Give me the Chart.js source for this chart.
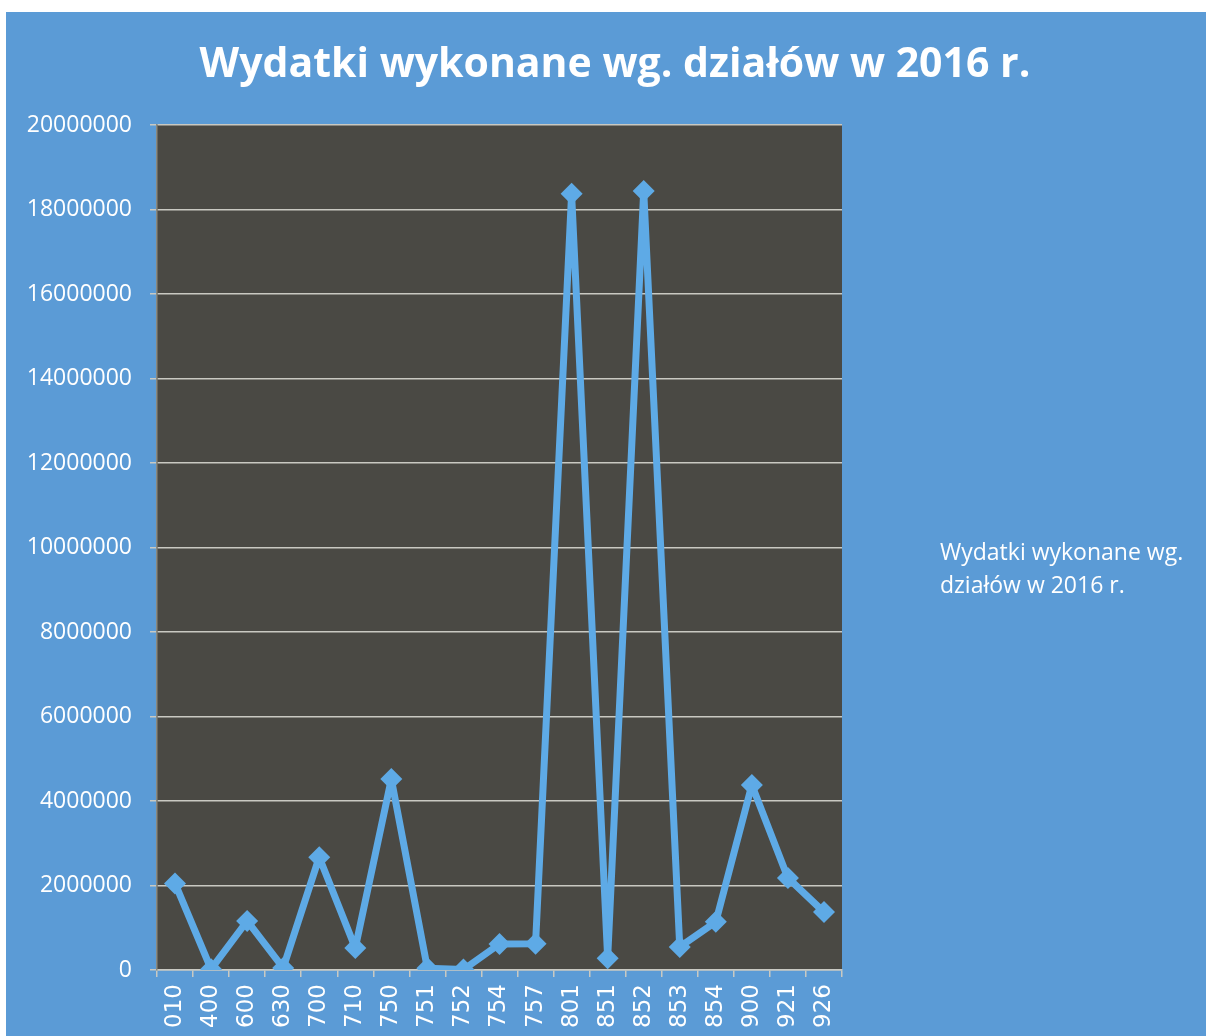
<!DOCTYPE html>
<html lang="pl">
  <head>
    <meta charset="UTF-8">
    <title>Wydatki wykonane wg. działów w 2016 r.</title>
    <script src="https://cdn.jsdelivr.net/npm/chart.js"></script>
    <style>
      body { margin: 0; background: #ffffff; }
      #wrap { position: absolute; left: 6px; top: 12px; width: 1200px; height: 1024px; }
    </style>
  </head>
  <body>
  <div id="wrap"><canvas id="chart" width="1200" height="1024"></canvas></div>
    <script>
    // dzialy budzetowe
    const dzialy = ['010', '400', '600', '630', '700', '710', '750', '751', '752', '754',
                    '757', '801', '851', '852', '853', '854', '900', '921', '926'];
    // wydatki wykonane
    const wydatki = [2050000, 20000, 1160000, 50000, 2670000, 520000, 4520000, 40000, 10000, 615000,
                     620000, 18370000, 280000, 18440000, 545000, 1140000, 4380000, 2180000, 1370000];
    const yTicks = [0, 2000000, 4000000, 6000000, 8000000, 10000000, 12000000, 14000000, 16000000, 18000000, 20000000];
    const tytul = 'Wydatki wykonane wg. działów w 2016 r.';
    const legenda = ['Wydatki wykonane wg.', 'działów w 2016 r.'];

    const tlo = {
      id: 'tlo',
      beforeDraw(chart) {
        const c = chart.ctx, a = chart.chartArea;
        c.save();
        c.fillStyle = '#5b9bd6';
        c.fillRect(0, 0, chart.width, chart.height);
        c.fillStyle = '#4a4944';
        c.fillRect(a.left, a.top, a.right - a.left, a.bottom - a.top);
        c.restore();
      },
      afterDraw(chart) {
        const c = chart.ctx;
        c.save();
        c.fillStyle = '#ffffff';
        c.textBaseline = 'middle';
        // tytul wyśrodkowany na całej szerokości
        c.font = 'bold 41px "Open Sans"';
        c.textAlign = 'center';
        c.fillText(tytul, 609, 53);
        // legenda po prawej
        c.font = '23px "Open Sans"';
        c.textAlign = 'left';
        c.fillText(legenda[0], 934, 541);
        c.fillText(legenda[1], 934, 574);
        c.restore();
      }
    };

    const ctx = document.getElementById('chart').getContext('2d');
    new Chart(ctx, {
      type: 'line',
      data: {
        labels: dzialy,
        datasets: [{
          label: tytul,
          data: wydatki,
          borderColor: '#5eaae6',
          backgroundColor: '#5eaae6',
          borderWidth: 7,
          borderJoinStyle: 'bevel',
          pointStyle: 'rectRot',
          pointRadius: 11,
          pointBorderWidth: 0,
          tension: 0,
          fill: false
        }]
      },
      options: {
        responsive: false,
        animation: false,
        layout: { padding: { left: 0, right: 364, top: 113, bottom: 0 } },
        plugins: {
          legend: { display: false },
          tooltip: { enabled: false },
          title: { display: false }
        },
        scales: {
          x: {
            offset: true,
            grid: { offset: true, drawOnChartArea: false, drawTicks: true, tickLength: 7, color: '#c9c9c2', lineWidth: 1.5 },
            border: { color: '#c9c9c2', width: 1.5 },
            ticks: { color: '#ffffff', minRotation: 90, maxRotation: 90, padding: 7, autoSkip: false,
                     font: { family: 'DejaVu Sans', size: 23 } },
            afterFit(s) { s.height = 66; }
          },
          y: {
            min: 0,
            max: 20000000,
            afterBuildTicks(s) { s.ticks = yTicks.map(v => ({ value: v })); },
            grid: { color: '#c9c9c2', lineWidth: 1.5, tickLength: 7 },
            border: { color: '#8a8a80', width: 1.5 },
            ticks: { color: '#ffffff', padding: 18, font: { family: '"Open Sans"', size: 23 },
                     callback: v => String(v) },
            afterFit(s) { s.width = 151; }
          }
        }
      },
      plugins: [tlo]
    });
    </script>
  </body>
</html>
